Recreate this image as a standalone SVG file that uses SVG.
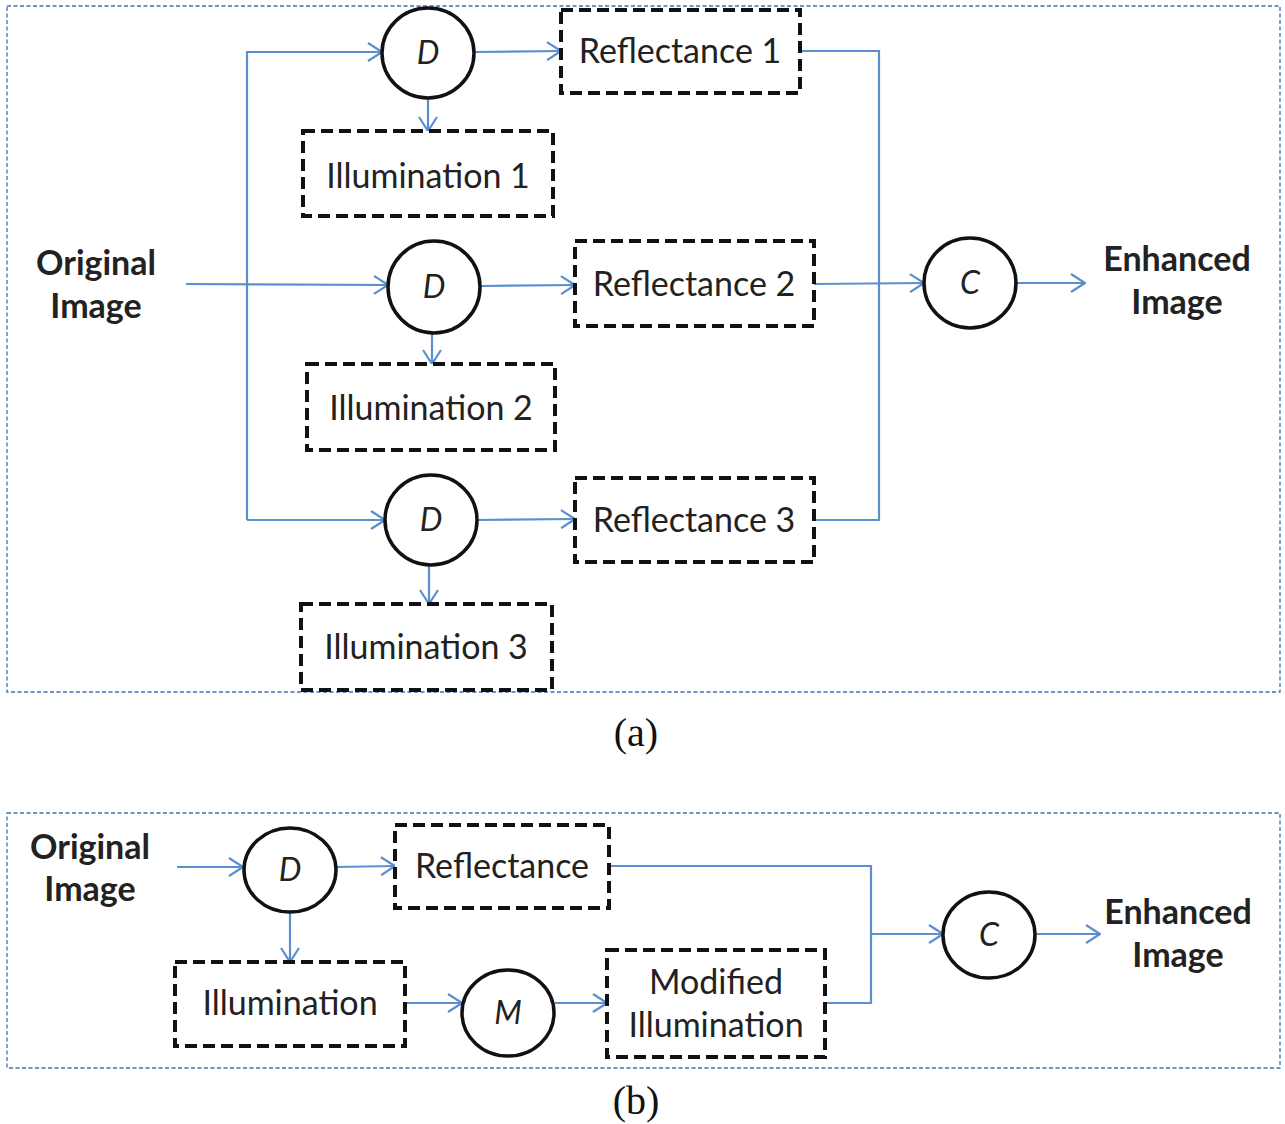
<svg xmlns="http://www.w3.org/2000/svg" width="1285" height="1124" viewBox="0 0 1285 1124">
<style>
.frame{fill:none;stroke:#3f6fb0;stroke-width:1.3;stroke-dasharray:4 2.5}
.box{fill:#fff;stroke:#111;stroke-width:4;stroke-dasharray:12 6}
.circ{fill:#fff;stroke:#111;stroke-width:3.5}
.lbl{font-family:Lato,"Open Sans","Liberation Sans",sans-serif;font-size:34px;fill:#222;text-anchor:middle}
.bold{font-family:Lato,"Open Sans","Liberation Sans",sans-serif;font-size:34px;font-weight:bold;fill:#222;text-anchor:middle}
.op{font-family:Lato,"Open Sans","Liberation Sans",sans-serif;font-size:32px;font-style:italic;fill:#222;text-anchor:middle}
.cap{font-family:"Liberation Serif",serif;font-size:40px;fill:#111;text-anchor:middle}
.ln{fill:none;stroke:#5b8fd0;stroke-width:2.2}
.arr{fill:none;stroke:#5b8fd0;stroke-width:2.2;marker-end:url(#ah)}
</style>
<defs>
<marker id="ah" viewBox="0 0 16 20" refX="15" refY="10" markerWidth="16" markerHeight="20" markerUnits="userSpaceOnUse" orient="auto">
<path d="M1,1 L15,10 L1,19" fill="none" stroke="#5b8fd0" stroke-width="2.2"/>
</marker>
</defs>
<rect width="1285" height="1124" fill="#fff"/>
<rect class="frame" x="7" y="6" width="1273" height="686"/>
<rect class="frame" x="7" y="813" width="1273" height="255"/>

<g id="connectors">
<polyline class="arr" points="247,520 247,52 382,52"/>
<line class="arr" x1="186" y1="284" x2="388" y2="285"/>
<line class="arr" x1="247" y1="520" x2="385" y2="520"/>
<line class="arr" x1="475" y1="52" x2="561" y2="51"/>
<line class="arr" x1="428" y1="98" x2="428" y2="131"/>
<line class="arr" x1="481" y1="286" x2="575" y2="285"/>
<line class="arr" x1="432" y1="333" x2="432" y2="364"/>
<line class="arr" x1="477" y1="520" x2="575" y2="519"/>
<line class="arr" x1="429" y1="565" x2="429" y2="604"/>
<polyline class="ln" points="800,51 879,51 879,520 814,520"/>
<line class="arr" x1="814" y1="284" x2="924" y2="283"/>
<line class="arr" x1="1016" y1="283" x2="1085" y2="283"/>

<line class="arr" x1="177" y1="867" x2="243" y2="867"/>
<line class="arr" x1="336" y1="867" x2="395" y2="866"/>
<line class="arr" x1="290" y1="912" x2="290" y2="962"/>
<line class="arr" x1="405" y1="1003" x2="462" y2="1003"/>
<line class="arr" x1="555" y1="1003" x2="607" y2="1003"/>
<polyline class="ln" points="609,866 871,866 871,1003 825,1003"/>
<line class="arr" x1="871" y1="934" x2="943" y2="934"/>
<line class="arr" x1="1035" y1="934" x2="1100" y2="934"/>
</g>

<g id="orig-a"><text class="bold" x="96" y="275">Original</text><text class="bold" x="96" y="318">Image</text></g>
<g id="d1"><ellipse class="circ" cx="428" cy="53" rx="46" ry="45"/><text class="op" x="428" y="64">D</text></g>
<g id="d2"><ellipse class="circ" cx="434" cy="287" rx="46" ry="46"/><text class="op" x="434" y="298">D</text></g>
<g id="d3"><ellipse class="circ" cx="431" cy="520" rx="46" ry="45"/><text class="op" x="431" y="531">D</text></g>
<g id="r1"><rect class="box" x="561" y="10" width="239" height="83"/><text class="lbl" x="680" y="63">Reflectance 1</text></g>
<g id="r2"><rect class="box" x="575" y="241" width="239" height="85"/><text class="lbl" x="694" y="296">Reflectance 2</text></g>
<g id="r3"><rect class="box" x="575" y="478" width="239" height="84"/><text class="lbl" x="694" y="532">Reflectance 3</text></g>
<g id="i1"><rect class="box" x="303" y="131" width="250" height="85"/><text class="lbl" x="428" y="188">Illumination 1</text></g>
<g id="i2"><rect class="box" x="307" y="364" width="248" height="86"/><text class="lbl" x="431" y="420">Illumination 2</text></g>
<g id="i3"><rect class="box" x="301" y="604" width="251" height="86"/><text class="lbl" x="426" y="659">Illumination 3</text></g>
<g id="c-a"><ellipse class="circ" cx="970" cy="283" rx="46" ry="45"/><text class="op" x="970" y="294">C</text></g>
<g id="enh-a"><text class="bold" x="1177" y="271">Enhanced</text><text class="bold" x="1177" y="314">Image</text></g>
<text class="cap" x="636" y="746">(a)</text>

<g id="orig-b"><text class="bold" x="90" y="859">Original</text><text class="bold" x="90" y="901">Image</text></g>
<g id="d-b"><ellipse class="circ" cx="290" cy="870" rx="46" ry="42"/><text class="op" x="290" y="881">D</text></g>
<g id="r-b"><rect class="box" x="395" y="825" width="214" height="83"/><text class="lbl" x="502" y="878">Reflectance</text></g>
<g id="i-b"><rect class="box" x="175" y="962" width="230" height="84"/><text class="lbl" x="290" y="1015">Illumination</text></g>
<g id="m-b"><ellipse class="circ" cx="508" cy="1013" rx="46" ry="43"/><text class="op" x="508" y="1024">M</text></g>
<g id="mi-b"><rect class="box" x="607" y="950" width="218" height="107"/><text class="lbl" x="716" y="994">Modified</text><text class="lbl" x="716" y="1037">Illumination</text></g>
<g id="c-b"><ellipse class="circ" cx="989" cy="935" rx="46" ry="43"/><text class="op" x="989" y="946">C</text></g>
<g id="enh-b"><text class="bold" x="1178" y="924">Enhanced</text><text class="bold" x="1178" y="967">Image</text></g>
<text class="cap" x="636" y="1114">(b)</text>
</svg>
